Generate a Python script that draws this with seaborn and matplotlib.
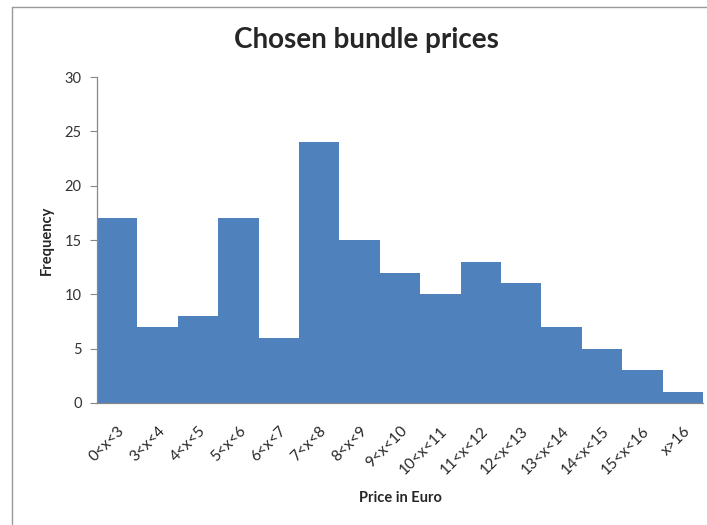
import pandas as pd
import seaborn as sns
from matplotlib import pyplot as plt
from matplotlib.lines import Line2D

price_ranges = ["0<x<3", "3<x<4", "4<x<5", "5<x<6", "6<x<7", "7<x<8", "8<x<9",
                "9<x<10", "10<x<11", "11<x<12", "12<x<13", "13<x<14", "14<x<15",
                "15<x<16", "x>16"]
frequency = [17, 7, 8, 17, 6, 24, 15, 12, 10, 13, 11, 7, 5, 3, 1]

df = pd.DataFrame({"price": price_ranges, "freq": frequency})

sns.set_style("white")
plt.rcParams['font.family'] = ['Lato', 'DejaVu Sans']

fig = plt.figure(figsize=(7.07, 5.25), dpi=100)
ax = fig.add_axes([97 / 707, 1 - 403 / 525, 606 / 707, 326 / 525])

sns.barplot(data=df, x="price", y="freq", color="#4F81BD", saturation=1,
            width=1.0, linewidth=0, ax=ax)

ax.set_xlim(-0.5, len(price_ranges) - 0.5)
ax.set_ylim(0, 30)
ax.set_yticks(range(0, 31, 5))
ax.tick_params(axis="y", direction="out", length=5, width=0.8, color="#888888",
               labelsize=10.5, labelcolor="#333333", pad=6, left=True)
ax.tick_params(axis="x", length=0, labelsize=11, pad=15)
plt.setp(ax.get_xticklabels(), rotation=45, ha="right", rotation_mode="anchor")

for side in ["top", "right"]:
    ax.spines[side].set_visible(False)
for side in ["left", "bottom"]:
    ax.spines[side].set_color("#888888")
    ax.spines[side].set_linewidth(0.9)

ax.set_xlabel("Price in Euro", fontweight="bold", fontsize=10.5, labelpad=10)
ax.set_ylabel("Frequency", fontweight="bold", fontsize=10.5, labelpad=8)
fig.text(366 / 707, 1 - 40 / 525, "Chosen bundle prices", ha="center", va="center",
         fontsize=20, fontweight="bold")

# chart area frame (cropped on the right and bottom)
fig.add_artist(Line2D([12 / 707, 12 / 707], [0, 1 - 7 / 525], color="#999999", lw=1))
fig.add_artist(Line2D([12 / 707, 1], [1 - 7 / 525, 1 - 7 / 525], color="#999999", lw=1))

plt.savefig("out.png", dpi=100)
